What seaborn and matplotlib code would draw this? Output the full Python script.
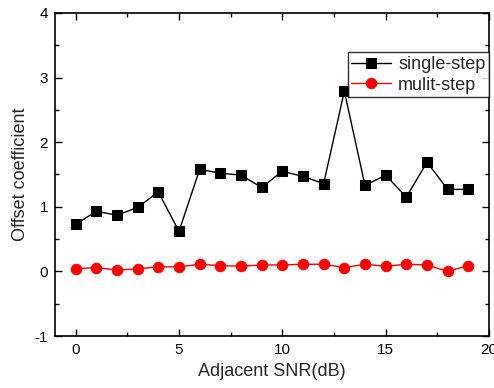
import numpy as np
import pandas as pd
import seaborn as sns
import matplotlib.pyplot as plt
from matplotlib.ticker import MultipleLocator

snr = list(range(20))
single_step = [0.73, 0.93, 0.87, 0.99, 1.23, 0.62, 1.58, 1.52, 1.49, 1.30,
               1.55, 1.47, 1.36, 2.79, 1.33, 1.49, 1.15, 1.69, 1.27, 1.27]
multi_step = [0.04, 0.06, 0.02, 0.04, 0.07, 0.07, 0.11, 0.09, 0.08, 0.10,
              0.10, 0.11, 0.11, 0.06, 0.11, 0.08, 0.11, 0.10, 0.00, 0.09]

df = pd.DataFrame({'snr': snr, 'single': single_step, 'multi': multi_step})

sns.set_style('ticks')
plt.rcParams['font.family'] = ['Liberation Sans', 'DejaVu Sans']
plt.rcParams['axes.unicode_minus'] = False

fig = plt.figure(figsize=(4.94, 3.88), dpi=100)
ax = fig.add_axes([55 / 494, 52 / 388, 434 / 494, 323 / 388])

sns.lineplot(data=df, x='snr', y='single', ax=ax, color='black', lw=1,
             marker='s', markersize=6.5, markeredgecolor='black', label='single-step')
sns.lineplot(data=df, x='snr', y='multi', ax=ax, color='red', lw=1,
             marker='o', markersize=7.5, markeredgecolor='red', label='mulit-step')

ax.set_xlim(-1, 20)
ax.set_ylim(-1, 4)
ax.xaxis.set_major_locator(MultipleLocator(5))
ax.xaxis.set_minor_locator(MultipleLocator(2.5))
ax.yaxis.set_major_locator(MultipleLocator(1))
ax.yaxis.set_minor_locator(MultipleLocator(0.5))
ax.tick_params(which='both', direction='in', top=True, right=True,
               labeltop=False, labelright=False, colors='black', labelsize=11)
ax.tick_params(which='major', length=5, width=1, pad=5)
ax.tick_params(which='minor', length=3, width=1)
for s in ax.spines.values():
    s.set_visible(True)
    s.set_linewidth(1.2)
    s.set_color('black')

ax.set_xlabel('Adjacent SNR(dB)', fontsize=13)
ax.set_ylabel('Offset coefficient', fontsize=13)

leg = ax.legend(loc='upper right', bbox_to_anchor=(1.0, 0.878), fontsize=13,
                frameon=True, fancybox=False, handlelength=2.2,
                borderpad=0.2, labelspacing=0.2, handletextpad=0.4,
                borderaxespad=0)
leg.get_frame().set_edgecolor('black')
leg.get_frame().set_linewidth(1)

fig.savefig('out.png', dpi=100)
